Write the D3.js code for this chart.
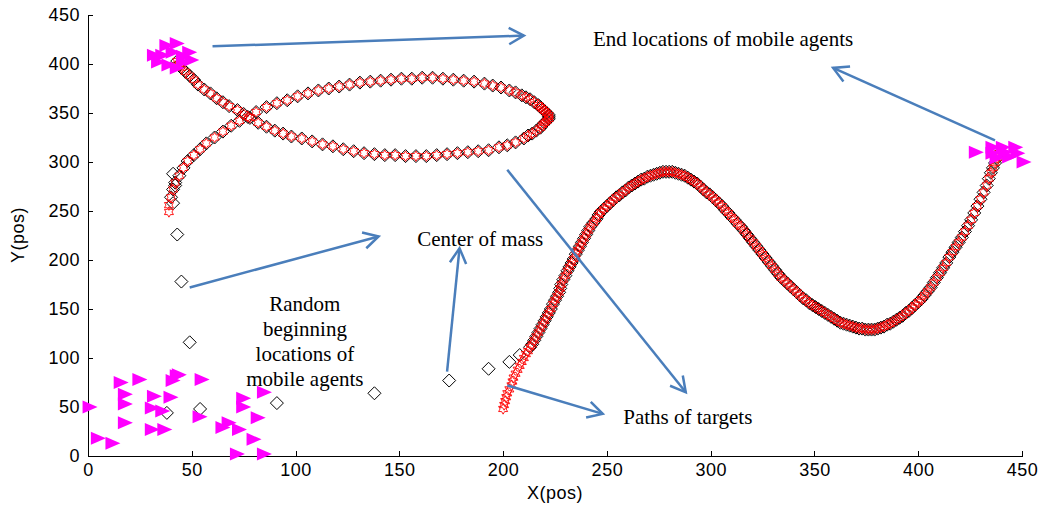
<!DOCTYPE html>
<html>
<head>
<meta charset="utf-8">
<script src="https://cdn.jsdelivr.net/npm/d3@7"></script>
<style>
    body { margin: 0; background: #fff; }
    .axis text { font-family: "Liberation Sans", Arial, sans-serif; font-size: 18px; letter-spacing: 0.5px; fill: #000; }
    .axis path, .axis line { stroke: #000; stroke-width: 1px; shape-rendering: crispEdges; }
    .axis-label { font-family: "Liberation Sans", Arial, sans-serif; font-size: 18px; letter-spacing: 0.5px; fill: #000; }
    .note { font-family: "Liberation Serif", "Times New Roman", serif; font-size: 21px; fill: #000; }
</style>
</head>
<body>
<svg id="chart"></svg>
<script>

// ticks
const xTicks = [0, 50, 100, 150, 200, 250, 300, 350, 400, 450];
const yTicks = [0, 50, 100, 150, 200, 250, 300, 350, 400, 450];

// path of target 1 (the loop)
const target1 = [
    [39,249],[39,256],[40,264],[41,272],[42,279],[44,286],[46,294],[48,301],[51,307],[54,313],
    [57,319],[61,325],[65,331],[69,337],[73,342],[77,346],[81,351],[86,356],[91,360],[96,363],
    [101,367],[106,370],[111,373],[116,375],[121,377],[126,379],[131,381],[136,382],[141,383],[146,384],
    [151,385],[156,385],[161,386],[166,386],[171,385],[176,384],[181,383],[186,382],[191,380],[195,378],
    [199,376],[203,373],[206,371],[209,368],[211,366],[213,364],[215,361],[217,358],[218,356],[219,354],
    [220,352],[221,350],[222,348],[222,346],[222,344],[221,342],[220,340],[219,338],[218,335],[216,332],
    [214,329],[212,327],[210,324],[206,320],[202,317],[198,315],
    [193,312],[188,311],[183,310],[178,309],[173,308],[168,307],[163,306],[158,306],[153,306],[148,307],
    [143,307],[138,308],[133,309],[128,311],[123,313],[118,316],[113,318],[108,321],[103,324],[98,326],
    [94,329],[90,332],[86,336],[82,340],[78,345],[75,349],[72,353],[68,357],[65,361],[62,365],
    [59,370],[56,374],[53,379],[51,384],[49,388],[47,392],[45,396],[44,400],[43,403]
];

// path of target 2 (the wave)
const target2 = [
    [200,48],[200.5,52],[201,56],[201.5,60],[202,64],[203,68],[204,72],[204.5,76],[205,80],[206,84],
    [207,88],[208,92],[209,96],[210,100],[211,104],[212,107],[213,111],[214,114],[215,118],[216,122],
    [217,126],[218,130],[219,134],[220,138],[221,142],[222,146],[223,150],[224,155],[225,159],[226,163],
    [227,167],[227.5,171],[228,175],[229,180],[230,184],[231,189],[232,193],[233,197],[234,201],[235,206],
    [236,210],[237,214],[238,218],[239,222],[240,226],[241,230],[242,234],[243.5,238],[245,242],[246,246],
    [247,249],[248.5,252],[250,255],[251.5,258],[253,261],[254.5,264],[256,266],[257.5,269],[259,271],[260.5,274],
    [262,276],[263.5,278],[265,280],[266.5,282],[268,283],[269.5,285],[271,286],[272.5,287],[274,288],[275.5,289],
    [277,290],[278.5,290],[280,290],[281.5,290],[283,289],[284.5,288],[286,287],[287.5,286],[289,284],[290.5,282],
    [292,280],[293.5,278],[295,275],[296.5,272],[298,269],[299.5,267],[301,264],[302.5,261],[304,258],[305.5,255],
    [307,251],[308.5,248],[310,244],[311.5,241],[313,237],[314.5,234],[316,230],[317.5,226],[319,222],[320.5,218],
    [322,214],[323.5,210],[325,206],[326.5,202],[328,198],[329.5,194],[331,190],[332.5,186],[334,182],[335.5,179],
    [337,176],[338.5,173],[340,170],[341.5,167],[343,164],[344.5,161],[346,159],[347.5,156],[349,154],[350.5,152],
    [352,150],[353.5,148],[355,146],[356.5,144],[358,142],[359.5,140],[361,138],[362.5,136],[364,135],[365.5,134],
    [367,133],[368.5,132],[370,131],[371.5,130],[373,130],[374.5,129],[376,129],[377.5,129],[379,129],[380.5,130],
    [382,131],[383.5,132],[385,134],[386.5,135],[388,137],[389.5,139],[391,141],[392.5,143],[394,146],[395.5,148],
    [397,151],[398.5,154],[400,157],[401.5,160],[403,164],[404.5,168],[406,172],[407.5,177],[409,182],[410.5,187],
    [412,192],[413.5,197],[415,203],[416.5,208],[418,213],[419.5,218],[421,223],[422.5,229],[424,235],[425.5,241],
    [427,248],[428.5,255],[430,262],[431.5,269],[433,276],[434,283],[435,289],[436,294],[437,299],[438,304],
    [439,309]
];

// centers of mass before they catch the targets
const com1 = [[38,44],[49,116],[45,178],[43,226],[41,258],[42,276],[41,288]];
const com2 = [[54,48],[91,54],[138,64],[174,77],[193,89],[203,96],[208,103]];

// mobile agents, start and end
const agentsStart = [
    [1,50],[5,18],[12,13],[16,75],[25,78],[18,63],[18,53],[18,34],[32,61],[31,49],
    [31,27],[37,27],[40,60],[41,77],[44,83],[43,82],[36,46],[55,78],[54,40],[65,29],
    [68,34],[73,27],[75,59],[75,50],[82,39],[80,17],[72,2],[85,2],[85,65]
];
const agentsEnd = [
    [34,402],[38,419],[41,412],[43,421],[36,409],[46,402],[49,412],[50,404],[43,396],[39,399],[32,409],[46,408],
    [428,310],[436,315],[441,315],[447,315],[448,309],[451,300],[444,305],[438,304],[436,309],[442,310]
];

// annotations: arrows [x1, y1, x2(head), y2(head)] and notes
const arrows = [
    [60,418,210,429],
    [437,322,359,396],
    [49,172,140,224],
    [173,86,179,212],
    [202,292,288,65],
    [202,72,248,43]
];
const notes = [
    {text: "End locations of mobile agents", x: 306, y: 418},
    {text: "Center of mass", x: 189, y: 214},
    {text: "Random", x: 104.5, y: 148},
    {text: "beginning", x: 104.5, y: 122},
    {text: "locations of", x: 104.5, y: 97},
    {text: "mobile agents", x: 104.5, y: 71},
    {text: "Paths of targets", x: 289, y: 33}
];

const margin = {top: 15, right: 24, bottom: 52, left: 88},
    width = 1046 - margin.left - margin.right,
    height = 508 - margin.top - margin.bottom;

const svg = d3.select("#chart")
    .attr("width", 1046)
    .attr("height", 508)
    .append("g")
    .attr("transform", "translate(" + margin.left + "," + margin.top + ")");

const xScale = d3.scaleLinear().domain([0, 450]).range([0, width]);
const yScale = d3.scaleLinear().domain([0, 450]).range([height, 0]);

//axes, ticks inside
svg.append("g")
    .attr("class", "axis x-axis")
    .attr("transform", "translate(0," + height + ")")
    .call(d3.axisBottom(xScale).tickValues(xTicks).tickSizeInner(-5).tickSizeOuter(0).tickPadding(7));

svg.append("g")
    .attr("class", "axis y-axis")
    .call(d3.axisLeft(yScale).tickValues(yTicks).tickSizeInner(-5).tickSizeOuter(0).tickPadding(8));

svg.append("text")
    .attr("class", "axis-label")
    .attr("x", xScale(225))
    .attr("y", height + 43)
    .attr("text-anchor", "middle")
    .text("X(pos)");

svg.append("text")
    .attr("class", "axis-label")
    .attr("transform", "translate(" + (24 - margin.left) + "," + (235 - margin.top) + ") rotate(-90)")
    .attr("text-anchor", "middle")
    .text("Y(pos)");

// marker shapes
function hexagram(r) {
    var pts = [];
    for (var k = 0; k < 12; k++) {
        var a = -Math.PI / 2 + k * Math.PI / 6;
        var rr = k % 2 === 0 ? r : r / Math.sqrt(3);
        pts.push([rr * Math.cos(a), rr * Math.sin(a)]);
    }
    return "M" + pts.join("L") + "Z";
}
const diamondPath = "M0,-6.5L6.5,0L0,6.5L-6.5,0Z";
const trianglePath = "M-7.5,-6.5L7.5,0L-7.5,6.5Z";
const starPath = hexagram(5.2);

function drawMarkers(cls, data, path, fill, stroke, sw) {
    svg.selectAll("." + cls)
        .data(data)
        .enter().append("path")
        .attr("class", cls)
        .attr("d", path)
        .attr("transform", function (d) { return "translate(" + xScale(d[0]) + "," + yScale(d[1]) + ")"; })
        .attr("fill", fill)
        .attr("stroke", stroke)
        .attr("stroke-width", sw);
}

drawMarkers("com1", com1.concat(target1.slice(2)), diamondPath, "none", "#000", 1);
drawMarkers("com2", com2.concat(target2.slice(16)), diamondPath, "none", "#000", 1);
drawMarkers("t1", target1, starPath, "none", "#ff0000", 0.9);
drawMarkers("t2", target2, starPath, "none", "#ff0000", 0.9);
drawMarkers("a-start", agentsStart, trianglePath, "#ff00ff", "none", 0);
drawMarkers("a-end", agentsEnd, trianglePath, "#ff00ff", "none", 0);

// arrows
const arrowColor = "#4a7ebb";
arrows.forEach(function (a) {
    var x1 = xScale(a[0]), y1 = yScale(a[1]), x2 = xScale(a[2]), y2 = yScale(a[3]);
    var ang = Math.atan2(y2 - y1, x2 - x1), L = 17, spread = 0.5;
    svg.append("line")
        .attr("x1", x1).attr("y1", y1).attr("x2", x2).attr("y2", y2)
        .attr("stroke", arrowColor).attr("stroke-width", 2.5);
    svg.append("path")
        .attr("d", "M" + (x2 - L * Math.cos(ang - spread)) + "," + (y2 - L * Math.sin(ang - spread)) +
            "L" + x2 + "," + y2 +
            "L" + (x2 - L * Math.cos(ang + spread)) + "," + (y2 - L * Math.sin(ang + spread)))
        .attr("fill", "none").attr("stroke", arrowColor).attr("stroke-width", 2.5);
});

svg.selectAll(".note")
    .data(notes)
    .enter().append("text")
    .attr("class", "note")
    .attr("x", function (d) { return xScale(d.x); })
    .attr("y", function (d) { return yScale(d.y); })
    .attr("text-anchor", "middle")
    .text(function (d) { return d.text; });

</script>
</body>
</html>
